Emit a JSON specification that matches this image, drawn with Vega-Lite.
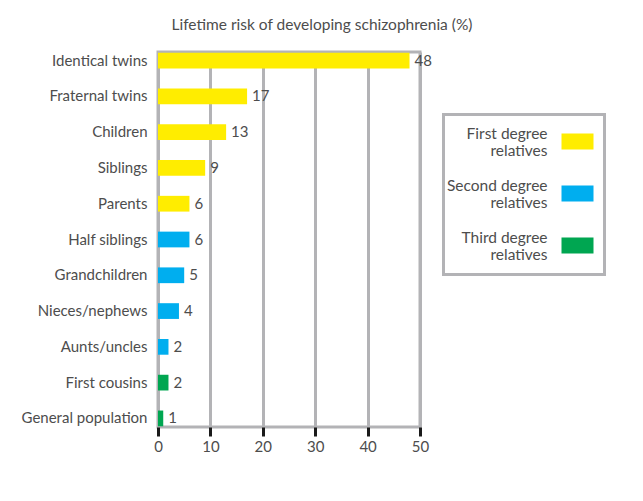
{
  "$schema": "https://vega.github.io/schema/vega-lite/v6.json",
  "autosize": "none",
  "width": 262,
  "height": 375,
  "padding": {"left": 158, "top": 52, "right": 223, "bottom": 74},
  "background": "#ffffff",
  "config": {
    "font": "Lato",
    "view": {"stroke": "#b3b3b6", "strokeWidth": 3},
    "axis": {"labelFont": "Lato", "labelColor": "#4d4d4d", "labelFontSize": 15}
  },
  "title": {
    "text": "Lifetime risk of developing schizophrenia (%)",
    "fontSize": 15.5,
    "font": "Lato",
    "fontWeight": "normal",
    "color": "#4d4d4d",
    "anchor": "middle",
    "dx": 33,
    "offset": 19
  },
  "data": {
    "values": [
      {"relation": "Identical twins", "risk": 48, "group": "First degree relatives"},
      {"relation": "Fraternal twins", "risk": 17, "group": "First degree relatives"},
      {"relation": "Children", "risk": 13, "group": "First degree relatives"},
      {"relation": "Siblings", "risk": 9, "group": "First degree relatives"},
      {"relation": "Parents", "risk": 6, "group": "First degree relatives"},
      {"relation": "Half siblings", "risk": 6, "group": "Second degree relatives"},
      {"relation": "Grandchildren", "risk": 5, "group": "Second degree relatives"},
      {"relation": "Nieces/nephews", "risk": 4, "group": "Second degree relatives"},
      {"relation": "Aunts/uncles", "risk": 2, "group": "Second degree relatives"},
      {"relation": "First cousins", "risk": 2, "group": "Third degree relatives"},
      {"relation": "General population", "risk": 1, "group": "Third degree relatives"}
    ]
  },
  "encoding": {
    "y": {
      "field": "relation",
      "type": "nominal",
      "sort": null,
      "scale": {"paddingInner": 0.56, "paddingOuter": 0.02},
      "axis": {"title": null, "ticks": false, "domain": false, "labelPadding": 11, "labelLimit": 200}
    },
    "x": {
      "field": "risk",
      "type": "quantitative",
      "scale": {"domain": [0, 50], "nice": false},
      "axis": {
        "title": null,
        "values": [0, 10, 20, 30, 40, 50],
        "domain": false,
        "grid": true,
        "gridColor": "#b3b3b6",
        "gridWidth": 3,
        "gridOpacity": 1,
        "ticks": true,
        "tickColor": "#1a1a1a",
        "tickWidth": 3,
        "tickSize": 9,
        "labelPadding": 3,
        "labelFlush": false
      }
    }
  },
  "layer": [
    {
      "mark": {"type": "bar"},
      "encoding": {
        "color": {
          "field": "group",
          "type": "nominal",
          "scale": {
            "domain": ["First degree relatives", "Second degree relatives", "Third degree relatives"],
            "range": ["#ffed00", "#00aeef", "#00a651"]
          },
          "legend": {
            "title": null,
            "orient": "none",
            "legendX": 285.5,
            "legendY": 62.5,
            "padding": 11,
            "strokeColor": "#b3b3b6",
            "symbolType": "M-1,-0.5H1V0.5H-1Z",
            "symbolSize": 1024,
            "symbolStrokeWidth": 0,
            "symbolOpacity": 1,
            "symbolOffset": 107,
            "labelOffset": -46,
            "labelAlign": "right",
            "labelBaseline": "bottom",
            "labelFontSize": 15.5,
            "labelFont": "Lato",
            "labelColor": "#4d4d4d",
            "labelLimit": 300,
            "labelExpr": "[replace(datum.label, ' relatives', ''), 'relatives']",
            "rowPadding": 18,
            "encode": {
              "legend": {"update": {"strokeWidth": {"value": 3}}}
            }
          }
        }
      }
    },
    {
      "mark": {"type": "text", "align": "left", "baseline": "middle", "dx": 5, "fontSize": 15, "font": "Lato", "color": "#4d4d4d"},
      "encoding": {"text": {"field": "risk", "type": "quantitative"}}
    }
  ]
}
